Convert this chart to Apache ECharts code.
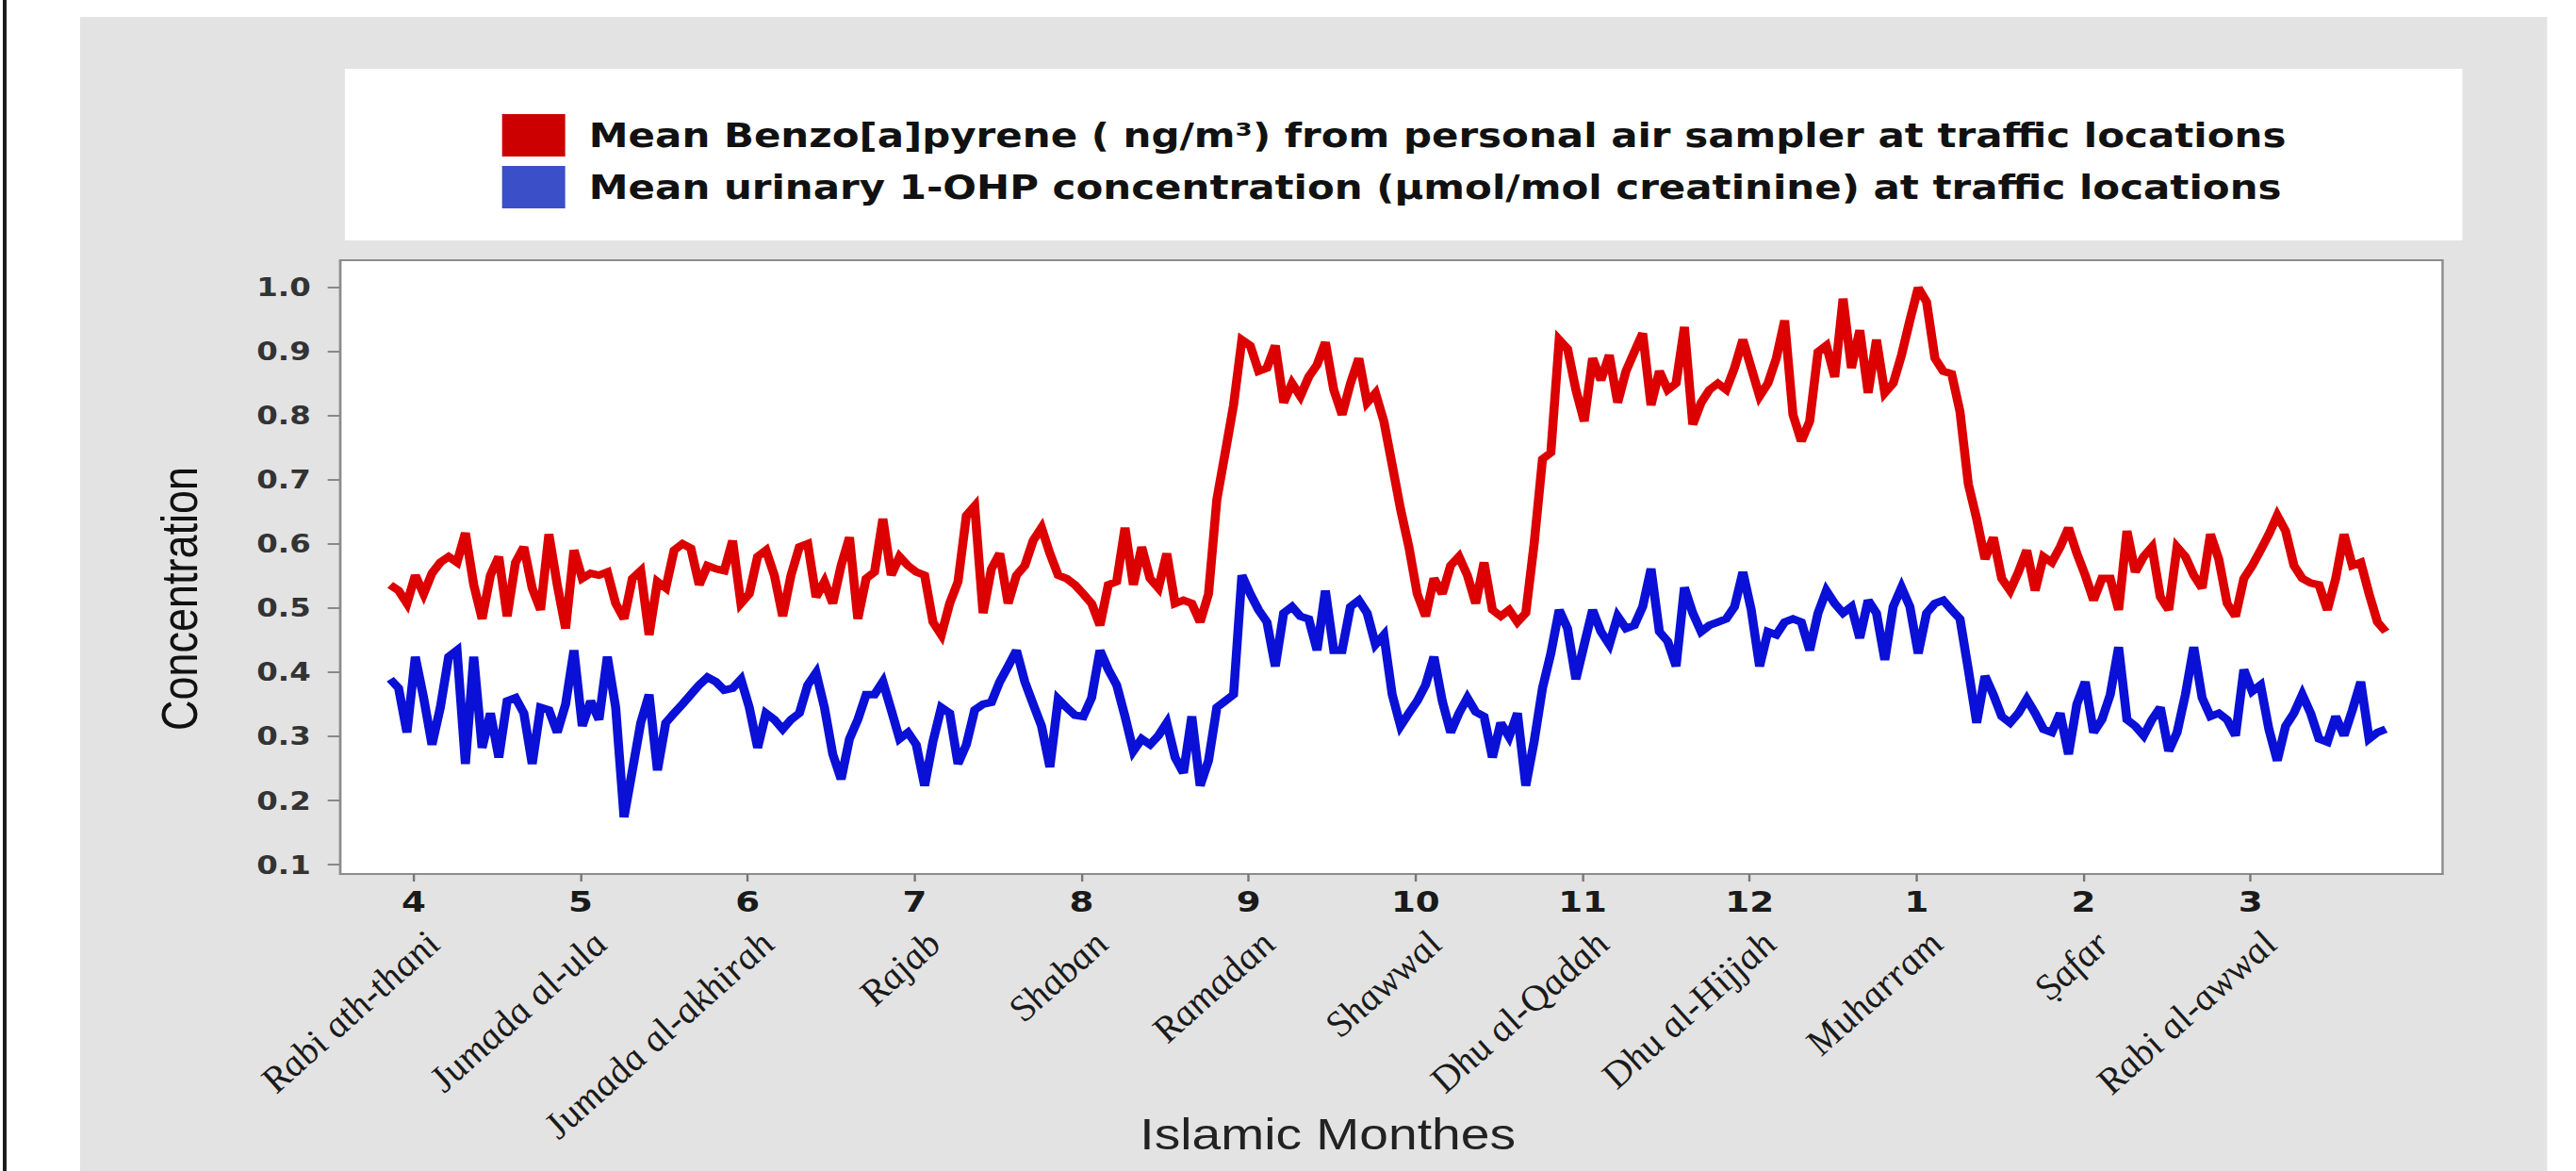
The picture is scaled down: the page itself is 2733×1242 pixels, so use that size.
<!DOCTYPE html>
<html>
<head>
<meta charset="utf-8">
<script src="https://cdn.jsdelivr.net/npm/echarts@6/dist/echarts.min.js"></script>
<style>
html,body{margin:0;padding:0;background:#ffffff;overflow:hidden;width:2733px;height:1242px;}
#chart{width:2278px;height:1242px;transform:scaleX(1.19974);transform-origin:0 0;}
</style>
</head>
<body>
<div id="chart"></div>
<script>
// ---------------- data ----------------
const monthNumbers = ['4','5','6','7','8','9','10','11','12','1','2','3'];
const monthNames = ['Rabi ath-thani','Jumada al-ula','Jumada al-akhirah','Rajab','Shaban','Ramadan','Shawwal','Dhu al-Qadah','Dhu al-Hijjah','Muharram','Ṣafar','Rabi al-awwal'];
const monthTicks = [0,1,2,3,4,5,6,7,8,9,10,11];
const yTickValues = [0.1,0.2,0.3,0.4,0.5,0.6,0.7,0.8,0.9,1.0];
const yTickLabels = ['0.1','0.2','0.3','0.4','0.5','0.6','0.7','0.8','0.9','1.0'];
// samples are taken every 0.05 month, the first one 0.14 month before month 4
const sampleStart = -0.14;
const sampleStep = 0.05;
const seriesNames = [
  'Mean Benzo[a]pyrene ( ng/m³) from personal air sampler at traffic locations',
  'Mean urinary 1-OHP concentration (µmol/mol creatinine) at traffic locations'
];
const benzoPyrene = [
0.536,0.527,0.507,0.551,0.522,0.554,0.571,0.580,0.571,0.617,
0.536,0.483,0.551,0.580,0.487,0.571,0.595,0.531,0.497,0.615,
0.536,0.468,0.590,0.546,0.554,0.551,0.556,0.507,0.483,0.546,
0.558,0.458,0.541,0.531,0.590,0.600,0.593,0.536,0.566,0.561,
0.558,0.605,0.507,0.522,0.580,0.590,0.551,0.487,0.551,0.595,
0.600,0.517,0.541,0.507,0.566,0.610,0.483,0.546,0.556,0.639,
0.551,0.580,0.566,0.556,0.551,0.478,0.458,0.507,0.541,0.644,
0.659,0.492,0.561,0.585,0.507,0.551,0.566,0.605,0.625,0.585,
0.551,0.546,0.536,0.522,0.507,0.473,0.536,0.541,0.625,0.536,
0.595,0.546,0.531,0.585,0.507,0.512,0.507,0.478,0.522,0.669,
0.742,0.816,0.918,0.909,0.869,0.874,
0.909,0.820,0.850,0.830,0.860,0.879,0.914,0.840,0.801,0.850,
0.889,0.820,0.835,0.791,0.723,0.654,0.595,0.522,0.487,0.546,
0.522,0.566,0.580,0.551,0.507,0.571,0.497,0.487,0.497,0.478,
0.492,0.600,0.732,0.742,0.918,0.904,0.840,0.791,0.889,0.855,
0.894,0.820,0.869,0.899,0.928,0.816,0.869,0.840,0.850,0.938,
0.786,0.820,0.840,0.850,0.840,0.874,0.918,0.874,0.830,0.850,
0.889,0.948,0.801,0.760,0.791,0.899,0.909,0.860,0.982,0.874,
0.933,0.835,0.918,0.835,0.850,0.894,0.948,0.999,0.977,0.889,
0.869,0.865,0.806,0.693,0.639,0.576,0.610,0.546,0.527,0.556,
0.590,0.527,0.580,0.571,0.595,0.625,0.585,0.551,0.512,0.546,
0.546,0.497,0.620,0.556,0.580,0.595,0.517,0.497,0.595,0.580,
0.551,0.531,0.615,0.576,0.507,0.487,0.546,0.566,0.590,0.615,
0.644,0.620,0.566,0.546,0.539,0.536,0.497,0.546,0.615,0.566,
0.571,0.522,0.478,0.463
];
const urinary1OHP = [
0.389,0.375,0.306,0.424,0.360,0.287,0.345,0.424,0.434,0.257,
0.424,0.282,0.336,0.267,0.355,0.360,0.336,0.257,0.345,0.341,
0.306,0.350,0.434,0.316,0.355,0.326,0.424,0.345,0.174,0.247,
0.321,0.365,0.247,0.321,0.336,0.350,0.365,0.380,0.392,0.385,
0.372,0.375,0.389,0.345,0.282,0.336,0.326,0.311,0.326,0.336,
0.380,0.399,0.345,0.272,0.233,0.296,0.326,0.365,0.365,0.385,
0.341,0.296,0.306,0.287,0.223,0.292,0.345,0.336,0.257,0.287,
0.341,0.350,0.353,0.385,0.409,0.434,0.385,0.350,0.316,0.252,
0.358,0.345,0.333,0.331,0.360,0.434,0.404,0.380,0.331,0.277,
0.296,0.287,0.301,0.321,0.267,0.243,0.331,0.223,0.262,0.345,
0.355,0.365,0.551,0.522,0.497,0.478,
0.409,0.492,0.502,0.487,0.483,0.434,0.527,0.434,0.434,0.502,
0.512,0.492,0.443,0.458,0.365,0.316,0.336,0.355,0.380,0.424,
0.355,0.306,0.336,0.360,0.338,0.331,0.267,0.321,0.299,0.336,
0.223,0.292,0.375,0.429,0.497,0.468,0.389,0.443,0.497,0.463,
0.443,0.487,0.468,0.473,0.502,0.561,0.463,0.448,0.409,0.532,
0.492,0.463,0.473,0.478,0.483,0.502,0.556,0.497,0.409,0.463,
0.458,0.478,0.483,0.478,0.434,0.492,0.527,0.507,0.492,0.502,
0.453,0.512,0.492,0.419,0.502,0.532,0.502,0.429,0.492,0.507,
0.512,0.497,0.483,0.404,0.321,0.394,0.365,0.331,0.321,0.336,
0.358,0.336,0.311,0.306,0.336,0.272,0.350,0.385,0.306,0.326,
0.365,0.439,0.326,0.316,0.301,0.326,0.345,0.277,0.306,0.365,
0.439,0.360,0.331,0.336,0.326,0.301,0.404,0.370,0.380,0.311,
0.262,0.316,0.336,0.365,0.336,0.296,0.291,0.331,0.301,0.341,
0.385,0.296,0.306,0.311
];

// ---------------- chart ----------------
const toPoints = vals => vals.map((v, i) => [sampleStart + i * sampleStep, v]);
const chart = echarts.init(document.getElementById('chart'), null, {renderer: 'svg', width: 2278, height: 1242});
const xMin = -0.44, xMax = 12.15, labelShift = 0.115;

chart.setOption({
  animation: false,
  backgroundColor: '#ffffff',
  graphic: [
    {type: 'rect', z: -10, silent: true, shape: {x: 70.8, y: 18, width: 2181.7, height: 1230}, style: {fill: '#e3e3e3'}},
    {type: 'rect', z: -9, silent: true, shape: {x: 305, y: 73, width: 1872.5, height: 182}, style: {fill: '#ffffff'}},
    {type: 'rect', z: -9, silent: true, shape: {x: 2.5, y: 0, width: 3.3, height: 1242}, style: {fill: '#1a1a1a'}},
    {type: 'text', z: 10, x: 159, y: 635, rotation: Math.PI / 2,
     style: {text: 'Concentration', font: '45px "Liberation Sans"', fill: '#111111', align: 'center', verticalAlign: 'middle'}},
    {type: 'text', z: 10, x: 1008, y: 1180,
     style: {text: 'Islamic Monthes', font: '46px "Liberation Sans"', fill: '#222222', align: 'left', verticalAlign: 'top'}}
  ],
  legend: {
    orient: 'vertical', left: 439, top: 116, itemWidth: 55.8, itemHeight: 45, itemGap: 10,
    icon: 'rect', selectedMode: false,
    textStyle: {fontFamily: 'DejaVu Sans', fontWeight: 'bold', fontSize: 35, color: '#111111', padding: [0, 0, 0, 16]},
    data: [
      {name: seriesNames[0], itemStyle: {color: '#cc0000'}},
      {name: seriesNames[1], itemStyle: {color: '#3a4fc8'}}
    ]
  },
  grid: {left: 300.8, right: 118, top: 276, bottom: 315, show: true, backgroundColor: '#ffffff', borderColor: '#8c8c8c', borderWidth: 2},
  xAxis: [
    {
      type: 'value', min: xMin, max: xMax, position: 'bottom',
      axisLine: {show: true, onZero: false, lineStyle: {color: '#8c8c8c', width: 2}},
      axisTick: {show: true, length: 8, customValues: monthTicks, lineStyle: {color: '#777777', width: 2}},
      axisLabel: {customValues: monthTicks, formatter: v => monthNumbers[Math.round(v)], margin: 14,
                  fontFamily: 'DejaVu Sans', fontWeight: 'bold', fontSize: 31, color: '#1a1a1a'},
      splitLine: {show: false}
    },
    {
      type: 'value', min: xMin - labelShift, max: xMax - labelShift, position: 'bottom',
      axisLine: {show: false, onZero: false}, axisTick: {show: false}, splitLine: {show: false},
      axisLabel: {customValues: monthTicks, formatter: v => monthNames[Math.round(v)], rotate: 47, margin: 68,
                  fontFamily: 'Liberation Serif', fontStyle: 'italic', fontSize: 37, color: '#1a1a1a'}
    }
  ],
  yAxis: {
    type: 'value', min: 0.0854, max: 1.0419,
    axisLine: {show: true, onZero: false, lineStyle: {color: '#8c8c8c', width: 2}},
    axisTick: {show: true, length: 11, customValues: yTickValues, lineStyle: {color: '#888888', width: 2}},
    axisLabel: {customValues: yTickValues, formatter: v => yTickLabels[yTickValues.findIndex(t => Math.abs(t - v) < 1e-6)] || v.toFixed(1),
                margin: 26, fontFamily: 'DejaVu Sans', fontWeight: 'bold', fontSize: 27, color: '#333333'},
    splitLine: {show: false}
  },
  series: [
    {name: seriesNames[1], type: 'line', xAxisIndex: 0, data: toPoints(urinary1OHP), showSymbol: false, z: 3,
     itemStyle: {color: '#3a4fc8'}, lineStyle: {color: '#0a10d6', width: 8, join: 'miter', miterLimit: 3}},
    {name: seriesNames[0], type: 'line', xAxisIndex: 0, data: toPoints(benzoPyrene), showSymbol: false, z: 4,
     itemStyle: {color: '#cc0000'}, lineStyle: {color: '#dc0000', width: 8, join: 'miter', miterLimit: 3}}
  ]
});
</script>
</body>
</html>
